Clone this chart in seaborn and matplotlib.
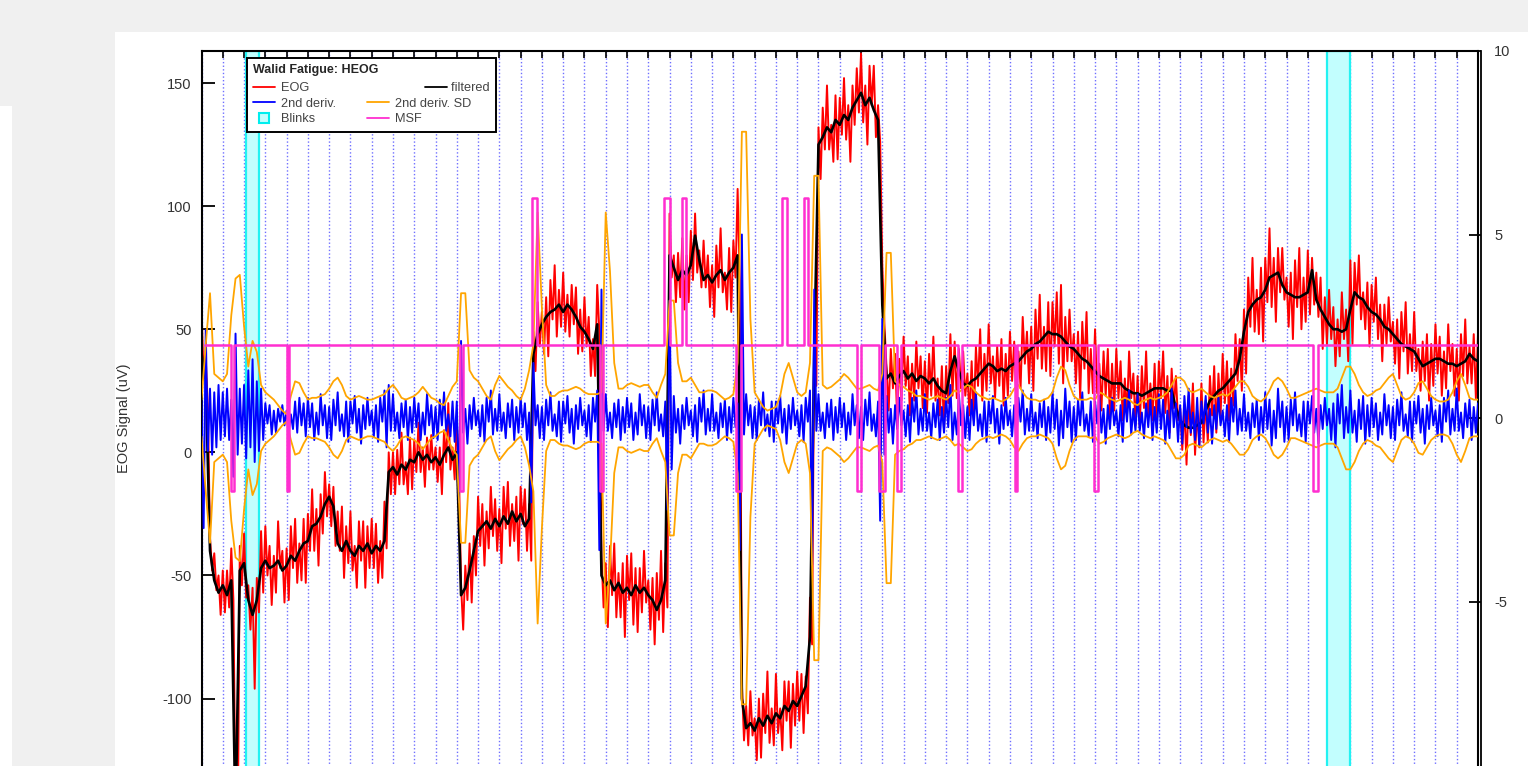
import numpy as np
import matplotlib
matplotlib.use("Agg")
import matplotlib.pyplot as plt
import seaborn as sns
from matplotlib.patches import Rectangle
from matplotlib.lines import Line2D
from matplotlib.legend_handler import HandlerLine2D

# ---------------- data ----------------
T_START, T_END = 0.0, 60.0     # seconds
T_STEP = 0.2                   # sampling of the filtered / SD traces
T_STEP_FAST = 0.1              # sampling of the noisy raw EOG / 2nd derivative traces

# filtered EOG (black), uV, one value per 0.2 s
filtered = [
    40, 30, -40, -52, -57,   -54, -58, -52, -150, -48,   -45, -60, -66, -60, -47,
    -44, -47, -46, -44, -48,  -46, -42, -44, -40, -37,   -36, -30, -29, -26, -21,
    -18, -22, -37, -40, -36,  -40, -42, -38, -40, -37,   -41, -38, -40, -36, -8,
    -6, -9, -5, -7, -3,       -4, 0, -3, -1, -4,         -2, -5, -1, 2, -3,
    0, -58, -55, -48, -40,    -32, -30, -28, -31, -27,   -30, -26, -29, -24, -28,
    -25, -30, -27, 40, 48,    52, 55, 57, 58, 60,        57, 60, 58, 55, 51,
    49, 46, 42, 52, -50,      -54, -52, -56, -53, -57,   -55, -58, -54, -57, -55,
    -58, -60, -64, -60, -52,  80, 75, 70, 74, 72,        76, 88, 78, 70, 72,
    69, 72, 74, 70, 73,       75, 80, -100, -112, -110,  -113, -108, -111, -107, -110,
    -106, -108, -103, -105, -101, -103, -99, -95, -75, 40, 125, 128, 132, 130, 135,
    133, 137, 135, 140, 143,  146, 141, 144, 139, 135,   60, 30, 32, 28, 31,
    33, 30, 32, 29, 31,       30, 28, 30, 27, 25,        24, 33, 39, 33, 28,
    27, 29, 30, 32, 34,       36, 35, 33, 34, 33,        35, 36, 37, 39, 41,
    42, 44, 45, 47, 49,       48, 48, 47, 45, 43,        42, 40, 38, 37, 35,
    33, 31, 30, 29, 28,       28, 28, 26, 25, 24,        24, 23, 24, 25, 26,
    26, 26, 25, 25, 18,       13, 11, 10, 10, 11,        12, 17, 21, 23, 25,
    26, 28, 30, 32, 38,       49, 57, 60, 62, 63,        66, 71, 72, 73, 68,
    65, 64, 63, 63, 64,       65, 74, 62, 58, 55,        52, 50, 50, 49, 50,
    58, 65, 63, 62, 59,       57, 56, 54, 51, 50,        48, 46, 44, 43, 42,
    41, 38, 35, 36, 37,       38, 38, 37, 36, 36,        35, 36, 37, 40, 38,
    37,
]

# raw EOG (red): deviation from the filtered trace, uV, one value per 0.1 s (one row = 1 s)
eog_dev = [
    19, -10, 8, -12, 5, -8, 11, -4, 7, -9,
    6, -11, 10, -5, 13, -8, 4, -12, 10, -6,
    12, -14, 6, -12, 11, -30, 9, -5, 15, -10,
    14, -6, 9, -15, 4, -11, 16, -3, 8, -13,
    7, -14, 12, -5, 17, -9, 3, -12, 10, -16,
    11, -4, 15, -10, 6, -17, 9, -7, 13, -5,
    5, -12, 8, -16, 13, -3, 18, -11, 6, -9,
    16, -8, 4, -13, 10, -6, 12, -15, 7, -10,
    14, -6, 9, -15, 4, -11, 16, -3, 8, -9,
    6, -11, 10, -4, 13, -8, 3, -10, 9, -12,
    9, -4, 12, -8, 5, -11, 7, -6, 11, -3,
    4, -10, 7, -12, 10, -3, 18, -9, 5, -8,
    13, -7, 4, -14, 9, -5, 11, -13, 6, -10,
    14, -6, 9, -16, 4, -11, 17, -3, 8, -13,
    7, -15, 12, -5, 17, -9, 3, -12, 10, -16,
    11, -4, 15, -10, 6, -17, 9, -7, 13, -5,
    5, -12, 8, -16, 13, -3, 18, -11, 6, -9,
    16, -8, 4, -13, 10, -6, 12, -15, 7, -10,
    14, -6, 9, -15, 4, -11, 16, -3, 8, -13,
    9, -17, 14, -6, 19, -11, 4, -14, 12, -18,
    13, -5, 17, -12, 7, -19, 10, -8, 15, -6,
    6, -14, 9, -18, 15, -4, 20, -13, 7, -11,
    17, -9, 5, -14, 11, -7, 13, -16, 8, -11,
    14, -6, 9, -15, 4, -11, 16, -3, 8, -13,
    7, -14, 12, -5, 17, -9, 3, -12, 10, -16,
    11, -4, 27, -10, 6, -17, 9, -7, 13, -5,
    5, -12, 8, -16, 13, -3, 18, -11, 6, -9,
    16, -8, 4, -13, 10, -6, 12, -15, 7, -10,
    14, -6, 9, -15, 4, -11, 16, -3, 8, -13,
    7, -14, 12, -5, 17, -9, 3, -12, 10, -16,
    11, -4, 15, -10, 6, -17, 9, -7, 13, -5,
    16, -12, 8, -16, 13, -3, 18, -11, 6, -9,
    16, -8, 4, -13, 10, -6, 12, -15, 7, -10,
    14, -6, 9, -15, 4, -11, 16, -3, 8, -13,
    7, -14, 12, -5, 17, -9, 3, -12, 10, -16,
    11, -4, 15, -10, 6, -17, 9, -7, 13, -5,
    5, -12, 8, -16, 13, -3, 18, -11, 6, -9,
    16, -8, 4, -13, 10, -6, 12, -15, 7, -10,
    14, -6, 9, -15, 4, -11, 16, -3, 8, -13,
    9, -17, 14, -6, 19, -11, 4, -14, 12, -18,
    13, -5, 17, -12, 21, -19, 10, -8, 15, -6,
    6, -14, 9, -18, 15, -4, 20, -13, 7, -11,
    17, -9, 5, -14, 11, -7, 13, -16, 8, -11,
    14, -6, 9, -15, 4, -11, 16, -3, 8, -13,
    7, -14, 12, -5, 17, -9, 3, -12, 10, -16,
    11, -4, 15, -10, 6, -17, 9, -7, 13, -5,
    5, -12, 8, -16, 13, -3, 18, -11, 6, -9,
    16, -8, 4, -13, 10, -6, 12, -15, 7, -10,
    14, -6, 9, -15, 4, -11, 16, -3, 8, -13,
    9, -17, 14, -6, 19, -11, 4, -14, 12, -18,
    13, -5, 20, -12, 7, -19, 10, -8, 15, -6,
    6, -14, 9, -18, 15, -4, 20, -13, 7, -11,
    17, -9, 5, -14, 11, -7, 13, -16, 8, -11,
    14, -6, 9, -15, 4, -11, 16, -3, 8, -13,
    20, -14, 12, -5, 17, -9, 3, -12, 10, -16,
    11, -4, 15, -10, 6, -17, 9, -7, 13, -5,
    5, -12, 8, -16, 13, -3, 18, -11, 6, -9,
    16, -8, 4, -13, 10, -6, 12, -15, 7, -10,
    14, -6, 9, -15, 4, -11, 16, -3, 8, -13,
    7, -14, 12, -5, 17, -9, 3, -12, 10, -16,
    11,
]

# 2nd derivative (blue), right axis, one value per 0.1 s (one row = 1 s)
deriv2 = [
    0.5, -3.0, 2.4, -0.9, 0.8, -1.0, 0.7, -0.8, 0.9, -0.6,
    0.7, -0.5, 0.8, -0.6, 0.5, -1.6, 2.3, -1.0, 0.8, -0.7,
    0.9, -1.1, 1.3, -0.8, 1.6, -1.2, 1.0, -0.9, 0.8, -0.6,
    0.4, -0.15, 0.35, -0.45, 0.2, -0.4, 0.25, -0.1, 0.35, -0.2,
    0.2, -0.35, 0.1, -0.3, 0.45, -0.4, 0.55, -0.2, 0.4, -0.5,
    0.55, -0.25, 0.4, -0.6, 0.15, -0.45, 0.65, -0.2, 0.35, -0.55,
    0.3, -0.6, 0.5, -0.2, 0.7, -0.35, 0.1, -0.5, 0.45, -0.65,
    0.45, -0.15, 0.6, -0.4, 0.25, -0.7, 0.35, -0.3, 0.55, -0.2,
    0.2, -0.5, 0.35, -0.65, 0.55, -0.1, 0.75, -0.8, 0.9, -0.35,
    0.65, -0.35, 0.15, -0.55, 0.4, -0.25, 0.5, -0.6, 0.3, -0.4,
    0.55, -0.25, 0.4, -0.6, 0.15, -0.45, 0.65, -0.2, 0.35, -0.55,
    0.3, -0.6, 0.5, -0.2, 0.7, -0.35, 0.1, -0.5, 0.45, -0.65,
    0.45, -2.3, 2.1, -0.4, 0.25, -0.7, 0.35, -0.3, 0.55, -0.2,
    0.2, -0.5, 0.35, -0.65, 0.55, -0.1, 0.75, -0.45, 0.25, -0.35,
    0.65, -0.35, 0.15, -0.55, 0.4, -0.25, 0.5, -0.6, 0.3, -0.4,
    0.55, -0.25, 0.4, -0.6, 0.15, -2.3, 1.5, -0.2, 0.35, -0.55,
    0.3, -0.6, 0.5, -0.2, 0.7, -0.35, 0.1, -0.5, 0.45, -0.65,
    0.45, -0.15, 0.6, -0.4, 0.25, -0.7, 0.35, -0.3, 0.55, -0.2,
    0.2, -0.5, 0.35, -0.65, 0.55, -0.1, 0.75, -3.6, 3.5, -0.35,
    0.65, -0.35, 0.15, -0.55, 0.4, -0.25, 0.5, -0.6, 0.3, -0.4,
    0.55, -0.25, 0.4, -0.6, 0.15, -0.45, 0.65, -0.2, 0.35, -0.55,
    0.3, -0.6, 0.5, -0.2, 0.7, -0.35, 0.1, -0.5, 0.45, -2.5,
    3.2, -1.4, 0.6, -0.4, 0.25, -0.7, 0.35, -0.3, 0.55, -0.2,
    0.2, -0.5, 0.35, -0.65, 0.55, -0.1, 0.75, -0.45, 0.25, -0.35,
    0.65, -0.35, 0.15, -0.55, 0.4, -0.25, 0.5, -0.6, 0.3, -0.4,
    0.55, -0.25, 0.4, -3.6, 5.0, -0.45, 0.65, -0.2, 0.35, -0.55,
    0.3, -0.6, 0.5, -0.2, 0.7, -0.35, 0.1, -0.5, 0.45, -0.65,
    0.45, -0.15, 0.6, -0.4, 0.25, -0.7, 0.35, -0.3, 0.55, -0.2,
    0.2, -0.5, 0.35, -0.65, 0.55, -0.1, 0.75, -4.0, 3.5, -0.35,
    0.65, -0.35, 0.15, -0.55, 0.4, -0.25, 0.5, -0.6, 0.3, -0.4,
    0.55, -0.25, 0.4, -0.6, 0.15, -0.45, 0.65, -0.2, 0.35, -0.55,
    0.3, -0.6, 0.5, -0.2, 0.7, -0.35, 0.1, -0.5, 0.45, -2.8,
    2.7, -1.0, 0.6, -0.4, 0.25, -0.7, 0.35, -0.3, 0.55, -0.2,
    0.2, -0.5, 0.35, -0.65, 0.55, -0.1, 0.75, -0.45, 0.25, -0.35,
    0.65, -0.35, 0.15, -0.55, 0.4, -0.25, 0.5, -0.6, 0.3, -0.4,
    0.55, -0.25, 0.9, -0.6, 0.15, -0.45, 0.65, -0.2, 0.35, -0.55,
    0.3, -0.6, 0.5, -0.2, 0.7, -0.35, 0.1, -0.5, 0.45, -0.65,
    0.45, -0.15, 0.6, -0.4, 0.25, -0.7, 0.35, -0.3, 0.55, -0.2,
    0.2, -0.5, 0.35, -0.65, 0.55, -0.1, 0.75, -0.45, 0.25, -0.35,
    0.65, -0.35, 0.15, -0.55, 0.4, -0.25, 0.5, -0.6, 0.3, -0.4,
    0.7, -0.3, 0.5, -0.75, 0.2, -0.55, 0.8, -0.25, 0.45, -0.65,
    0.3, -0.6, 0.5, -0.2, 0.7, -0.35, 0.1, -0.5, 0.45, -0.65,
    0.45, -0.15, 0.6, -0.4, 0.25, -0.7, 0.35, -0.3, 0.55, -0.2,
    0.2, -0.5, 0.35, -0.65, 0.55, -0.1, 0.75, -0.45, 0.25, -0.35,
    0.65, -0.35, 0.15, -0.55, 0.4, -0.25, 0.5, -0.6, 0.3, -0.4,
    0.65, -0.3, 0.5, -0.7, 0.2, -0.55, 0.8, -0.25, 0.4, -0.65,
    0.35, -0.7, 0.6, -0.25, 0.8, -0.4, 0.15, -0.6, 0.55, -0.75,
    0.45, -0.15, 0.6, -0.4, 0.25, -0.7, 0.35, -0.3, 0.55, -0.2,
    0.2, -0.5, 0.35, -0.65, 0.55, -0.1, 0.75, -0.45, 0.25, -0.35,
    0.65, -0.35, 0.15, -0.55, 0.4, -0.25, 0.5, -0.6, 0.3, -0.4,
    0.7, -0.3, 0.5, -0.75, 0.2, -0.55, 0.8, -0.25, 0.45, -0.65,
    0.3, -0.6, 0.5, -0.2, 0.7, -0.35, 0.1, -0.5, 0.45, -0.65,
    0.45, -0.15, 0.6, -0.4, 0.25, -0.7, 0.35, -0.3, 0.55, -0.2,
    0.25, -0.6, 0.4, -0.8, 0.65, -0.15, 0.9, -0.55, 0.3, -0.4,
    0.75, -0.4, 0.2, -0.65, 0.5, -0.3, 0.6, -0.7, 0.35, -0.5,
    0.55, -0.25, 0.4, -0.6, 0.15, -0.45, 0.65, -0.2, 0.35, -0.55,
    0.3, -0.6, 0.5, -0.2, 0.7, -0.35, 0.1, -0.5, 0.45, -0.65,
    0.45, -0.15, 0.6, -0.4, 0.25, -0.7, 0.35, -0.3, 0.55, -0.2,
    0.2, -0.5, 0.35, -0.65, 0.55, -0.1, 0.75, -0.45, 0.25, -0.35,
    0.8, -0.35, 0.15, -0.55, 0.4, -0.25, 0.5, -0.6, 0.3, -0.4,
    0.4,
]

# 2nd derivative SD envelope (orange, plotted as +SD and -SD), right axis, per 0.2 s
deriv2_sd = [
    0.5, 2.0, 3.4, 1.2, 1.1,      1.0, 1.2, 2.8, 3.8, 3.9,      2.5, 1.4, 2.1, 1.8, 0.9,
    0.7, 0.6, 0.5, 0.35, 0.2,     0.1, 0.6, 1.0, 0.95, 0.7,     0.5, 0.55, 0.55, 0.6, 0.65,
    0.8, 1.0, 1.1, 0.9, 0.6,      0.5, 0.55, 0.6, 0.55, 0.5,    0.5, 0.55, 0.6, 0.65, 0.8,
    0.9, 0.75, 0.55, 0.5, 0.55,   0.6, 0.7, 0.85, 0.7, 0.55,    0.5, 0.4, 0.35, 0.6, 0.85,
    1.0, 3.4, 3.4, 1.3, 1.1,      1.0, 0.8, 0.6, 0.5, 0.9,      1.15, 1.0, 0.85, 0.75, 0.6,
    0.5, 0.8, 1.3, 2.0, 5.6,      3.0, 0.9, 0.6, 0.6, 0.7,      0.75, 0.75, 0.8, 0.85, 0.8,
    0.7, 0.65, 0.65, 0.65, 0.7,   5.6, 4.0, 1.5, 0.8, 0.8,      0.9, 0.95, 0.9, 0.85, 0.9,
    0.9, 0.7, 0.55, 0.9, 1.2,     3.2, 3.2, 1.5, 1.0, 1.0,      1.1, 0.9, 0.7, 0.7, 0.75,
    0.75, 0.7, 0.6, 0.5, 0.55,    0.65, 1.5, 7.8, 7.8, 2.7,     0.7, 0.5, 0.3, 0.2, 0.25,
    0.3, 0.6, 1.2, 1.5, 1.1,      0.7, 0.6, 0.7, 1.5, 6.6,      6.6, 0.9, 0.8, 0.85, 0.95,
    1.05, 1.2, 1.1, 0.95, 0.8,    0.8, 0.85, 0.9, 0.8, 0.75,    1.2, 4.5, 4.5, 1.0, 0.9,
    0.85, 0.75, 0.7, 0.6, 0.6,    0.55, 0.5, 0.55, 0.6, 0.55,   0.5, 0.6, 0.75, 0.7, 0.8,
    0.9, 0.85, 0.7, 0.6, 0.55,    0.5, 0.55, 0.5, 0.45, 0.5,    0.6, 0.8, 0.9, 0.7, 0.55,
    0.5, 0.5, 0.45, 0.5, 0.55,    0.7, 1.1, 1.4, 1.3, 0.9,      0.6, 0.5, 0.5, 0.5, 0.55,
    0.5, 0.7, 0.65, 0.55, 0.5,    0.45, 0.5, 0.55, 0.5, 0.4,    0.35, 0.45, 0.5, 0.55, 0.5,
    0.55, 0.6, 0.7, 0.9, 1.1,     1.1, 1.0, 0.75, 0.7, 0.75,    0.8, 0.7, 0.6, 0.55, 0.6,
    0.65, 0.6, 0.7, 0.85, 1.0,    1.0, 0.85, 0.6, 0.5, 0.45,    0.55, 0.75, 1.0, 1.1, 1.0,
    0.8, 0.55, 0.55, 0.6, 0.65,   0.7, 0.75, 0.8, 0.75, 0.7,    0.7, 0.7, 0.8, 1.1, 1.4,
    1.4, 1.2, 0.9, 0.7, 0.6,      0.65, 0.75, 0.8, 0.95, 1.1,   1.2, 0.9, 0.6, 0.5, 0.55,
    0.7, 0.95, 1.0, 0.8, 0.6,     0.5, 0.45, 0.45, 0.5, 0.7,    1.0, 1.2, 0.9, 0.55, 0.5,
    0.5,
]

# MSF (magenta) step signal: baseline level and pulses
msf_start, msf_base = 0.16, 2
msf_on = [1.39, 4.02, 12.15, 15.54, 18.74, 21.74, 22.59, 25.13, 27.29, 28.33,
          30.82, 31.85, 32.70, 35.57, 38.25, 41.96, 52.26]
msf_off = [1.53, 4.11, 12.29, 15.77, 18.88, 22.03, 22.78, 25.36, 27.53, 28.51,
           31.01, 32.13, 32.89, 35.76, 38.34, 42.15, 52.49]
msf_level = [-2, -2, -2, 6, -2, 6, 6, -2, 6, 6, -2, -2, -2, -2, -2, -2, -2]

# Blinks (cyan spans), seconds
blink_start = [2.09, 52.90]
blink_end = [2.72, 54.00]

legend_title = "Walid Fatigue: HEOG"
legend_labels = ['EOG', '2nd deriv.', 'Blinks', 'filtered', '2nd deriv. SD', 'MSF']
y_label = "EOG Signal (uV)"
left_ticks = [-100, -50, 0, 50, 100, 150]
right_ticks = [-5, 0, 5, 10]

# ---------------- derived arrays ----------------
t = np.round(np.arange(len(filtered)) * T_STEP + T_START, 3)
t_fast = np.round(np.arange(len(deriv2)) * T_STEP_FAST + T_START, 3)
filt = np.array(filtered, dtype=float)
# raw trace = filtered value of the current 0.2 s sample + read deviation
filt_hold = np.repeat(filt, 2)[:len(eog_dev)]
eog = filt_hold + np.array(eog_dev, dtype=float)
d2 = np.array(deriv2, dtype=float)
sd = np.array(deriv2_sd, dtype=float)

msf_x, msf_y = [msf_start], [msf_base]
for on, off, lv in zip(msf_on, msf_off, msf_level):
    msf_x += [on, off]
    msf_y += [lv, msf_base]
msf_x.append(T_END)
msf_y.append(msf_base)

# ---------------- figure ----------------
sns.set_theme(style="white")
plt.rcParams['font.family'] = ['Liberation Sans', 'DejaVu Sans']
plt.rcParams['axes.unicode_minus'] = False

W, H = 1528, 766
fig = plt.figure(figsize=(W / 100, H / 100), dpi=100)
fig.patch.set_facecolor('#f0f0f0')
fig.add_artist(Rectangle((115 / W, 0), 1 - 115 / W, 1 - 32 / H, transform=fig.transFigure,
                         facecolor='white', edgecolor='none', zorder=-10))
fig.add_artist(Rectangle((0, 0), 12 / W, 1 - 106 / H, transform=fig.transFigure,
                         facecolor='white', edgecolor='none', zorder=-10))

ax_left, ax_right_px, ax_top, ax_bottom = 201.5, 1478.0, 51.0, 785.0
ax = fig.add_axes([ax_left / W, 1 - ax_bottom / H, (ax_right_px - ax_left) / W,
                   (ax_bottom - ax_top) / H])
ax.set_facecolor('white')
ax2 = ax.twinx()

# blinks
for b0, b1 in zip(blink_start, blink_end):
    ax.axvspan(b0, b1, facecolor='#c2fefe', edgecolor='#22f2f2', lw=1.6, zorder=0.6)

# left axis signals
sns.lineplot(x=t_fast, y=eog, ax=ax, color='#ff0000', linewidth=1.4, estimator=None,
             sort=False, legend=False, zorder=2)
sns.lineplot(x=t, y=filt, ax=ax, color='black', linewidth=1.9, estimator=None,
             sort=False, legend=False, zorder=3)

# right axis signals
sns.lineplot(x=t_fast, y=d2, ax=ax2, color='#0000ff', linewidth=1.4, estimator=None,
             sort=False, legend=False, zorder=2)
sns.lineplot(x=t, y=sd, ax=ax2, color='#ffa500', linewidth=1.3, estimator=None,
             sort=False, legend=False, zorder=3)
sns.lineplot(x=t, y=-sd, ax=ax2, color='#ffa500', linewidth=1.3, estimator=None,
             sort=False, legend=False, zorder=3)
sns.lineplot(x=np.array(msf_x), y=np.array(msf_y), ax=ax2, color='#ff2fd0', linewidth=1.8,
             estimator=None, sort=False, legend=False, drawstyle='steps-post', zorder=4)

# axes limits / ticks
ax.set_xlim(T_START, T_END)
ax.set_ylim(-135.1, 163.0)
ax2.set_ylim(-10, 10)
ax.set_xticks(np.arange(0, 61, 1))
ax.set_yticks(left_ticks)
ax.set_yticklabels([str(v) for v in left_ticks])
ax2.set_yticks(right_ticks)
ax2.set_yticklabels([str(v) for v in right_ticks])

ax.grid(False)
ax2.grid(False)
ax.xaxis.grid(True, linestyle=(0, (1, 1.6)), color='#6f6fff', linewidth=1.0)
ax.set_axisbelow(True)

# bottom of the axes lies below the visible picture: no bottom tick labels shown
ax.tick_params(axis='x', which='both', top=True, bottom=True, direction='in', length=5,
               width=1.2, color='black', labeltop=False, labelbottom=False)
ax.tick_params(axis='y', left=True, right=False, direction='in', length=9, width=1.3,
               color='black', labelsize=10.5, labelcolor='#333333', pad=7)
ax2.tick_params(axis='y', right=True, left=False, direction='in', length=9, width=1.3,
                color='black', labelsize=10.5, labelcolor='#333333', pad=9)

for name, sp in ax.spines.items():
    sp.set_color('black')
    sp.set_linewidth(1.5)
for name, sp in ax2.spines.items():
    sp.set_visible(name == 'right')
    sp.set_color('black')
    sp.set_linewidth(1.3)
ax2.spines['right'].set_position(('outward', 2.5))

ax.set_xlabel('')
ax2.set_ylabel('')
ax.set_ylabel(y_label, fontsize=10.5, color='#333333')
ax.yaxis.set_label_coords((131 - ax_left) / (ax_right_px - ax_left), 0.5)


# legend ("filtered" entry sits right-aligned in its column, as in the reference)
class ShiftedLineHandler(HandlerLine2D):
    def __init__(self, shift_pt, **kw):
        super().__init__(**kw)
        self.shift_pt = shift_pt

    def create_artists(self, legend, orig_handle, xdescent, ydescent, width, height,
                       fontsize, trans):
        return super().create_artists(legend, orig_handle, xdescent - self.shift_pt,
                                      ydescent, width, height, fontsize, trans)


h_eog = Line2D([], [], color='#ff0000', lw=1.3)
h_d2 = Line2D([], [], color='#0000ff', lw=1.3)
h_blink = Line2D([], [], marker='s', markersize=7.5, markerfacecolor='#c2fefe',
                 markeredgecolor='#00eeee', markeredgewidth=1.5, linestyle='none')
h_filt = Line2D([], [], color='black', lw=1.3)
h_sd = Line2D([], [], color='#ffa500', lw=1.3)
h_msf = Line2D([], [], color='#ff2fd0', lw=1.3)
handles = [h_eog, h_d2, h_blink, h_filt, h_sd, h_msf]
labels_shown = list(legend_labels)
labels_shown[3] = ' ' * 16 + legend_labels[3]

leg = ax2.legend(handles, labels_shown, ncol=2, title=legend_title, loc='upper left',
                 bbox_to_anchor=(246.5 / W, 1 - 58 / H), bbox_transform=fig.transFigure,
                 borderaxespad=0, frameon=True, fancybox=False, fontsize=9.2,
                 title_fontproperties={'weight': 'bold', 'size': 9},
                 alignment='left', columnspacing=2.4, handlelength=1.7,
                 handletextpad=0.5, labelspacing=0.28, borderpad=0.5,
                 handler_map={h_filt: ShiftedLineHandler(42)})
leg._legend_box.sep = leg._legend_box.sep + 1.7
leg.get_frame().set_edgecolor('black')
leg.get_frame().set_linewidth(1.4)
leg.get_frame().set_facecolor('white')
leg.get_frame().set_alpha(1)
for txt in leg.get_texts():
    txt.set_color('#444444')
leg.set_zorder(10)

fig.savefig('out.png', dpi=100, facecolor=fig.get_facecolor())
